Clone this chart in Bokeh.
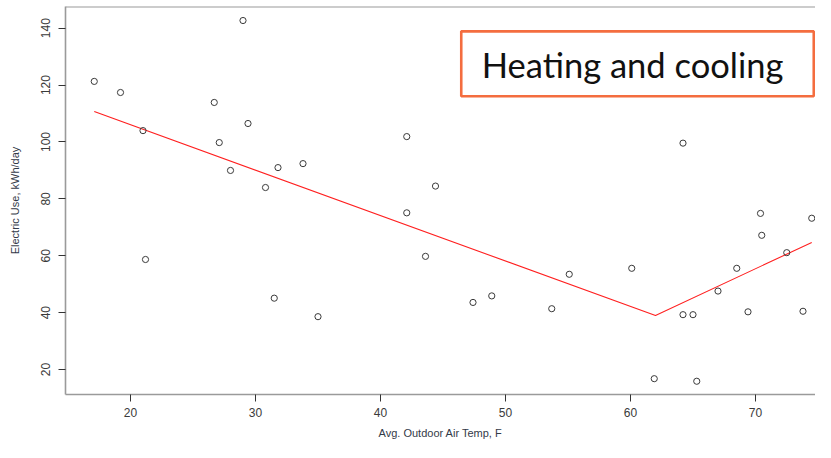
from bokeh.plotting import figure
from bokeh.models import (ColumnDataSource, Range1d, FixedTicker, BoxAnnotation,
                          Label, Span)
from bokeh.embed import file_html
from bokeh.resources import INLINE

# ---- data ----
temp_f = [17.1, 19.2, 21.0, 21.2, 26.7, 27.1, 28.0, 29.0, 29.4, 30.8,
          31.8, 31.5, 33.8, 35.0, 42.1, 42.1, 43.6, 44.4, 47.4, 48.9,
          53.7, 55.1, 60.1, 61.9, 64.2, 64.2, 65.0, 65.3, 67.0, 68.5,
          69.4, 70.4, 70.5, 72.5, 73.8, 74.5]
kwh_day = [121.3, 117.4, 104.0, 58.7, 113.9, 99.8, 90.0, 142.7, 106.5, 84.0,
           91.0, 45.1, 92.4, 38.6, 101.9, 75.1, 59.8, 84.5, 43.6, 45.9,
           41.4, 53.5, 55.6, 16.8, 99.6, 39.3, 39.3, 15.9, 47.6, 55.6,
           40.3, 74.9, 67.2, 61.1, 40.5, 73.2]

fit_x = [17.1, 62.0, 74.5]
fit_y = [110.7, 39.0, 64.7]

x_ticks = [20, 30, 40, 50, 60, 70]
y_ticks = [20, 40, 60, 80, 100, 120, 140]

title_text = "Heating and cooling"
x_label = "Avg. Outdoor Air Temp, F"
y_label = "Electric Use, kWh/day"

pts = ColumnDataSource(dict(x=temp_f, y=kwh_day))
fit = ColumnDataSource(dict(x=fit_x, y=fit_y))

Y_TOP = 147.63
p = figure(width=815, height=442, output_backend="svg", toolbar_location=None,
           x_range=Range1d(14.8, 74.8), y_range=Range1d(11.24, Y_TOP),
           min_border_left=65, min_border_right=0, min_border_top=6,
           min_border_bottom=48)

p.background_fill_color = "white"
p.border_fill_color = "white"
p.outline_line_color = None
p.grid.visible = False

axis_gray = "#9a9a9a"
for ax in (p.xaxis[0], p.yaxis[0]):
    ax.axis_line_color = axis_gray
    ax.axis_line_width = 1.6
    ax.major_tick_line_color = "#333333"
    ax.major_tick_line_width = 1
    ax.major_tick_out = 7
    ax.major_tick_in = 0
    ax.minor_tick_line_color = None
    ax.major_label_text_font = "Liberation Sans"
    ax.major_label_text_font_size = "12px"
    ax.major_label_text_color = "#3a3a3a"
    ax.axis_label_text_font = "Liberation Sans"
    ax.axis_label_text_font_size = "11px"
    ax.axis_label_text_font_style = "normal"
    ax.axis_label_text_color = "#333a48"

p.xaxis.ticker = FixedTicker(ticks=x_ticks)
p.yaxis.ticker = FixedTicker(ticks=y_ticks)
p.xaxis.axis_label = x_label
p.yaxis.axis_label = y_label
p.yaxis.major_label_orientation = "vertical"
p.xaxis.major_label_standoff = 6
p.xaxis.axis_label_standoff = 7
p.yaxis.major_label_standoff = 8
p.yaxis.axis_label_standoff = 18

# top frame line
p.add_layout(Span(location=Y_TOP, dimension="width", line_color=axis_gray,
                  line_width=2))

p.line("x", "y", source=fit, line_color="#ff2020", line_width=1.1)
p.scatter("x", "y", source=pts, marker="circle", size=6.2,
          fill_color=None, line_color="#3a3a3a", line_width=1)

box = BoxAnnotation(left=46.46, right=74.66, top=138.9, bottom=116.1,
                    fill_color="white", fill_alpha=1.0,
                    line_color="#f46d3f", line_width=2.6, line_alpha=1.0)
p.add_layout(box)
p.add_layout(Label(x=48.1, y=127.3, text=title_text, text_font="Lato",
                   text_font_size="34.5px", text_color="#111111",
                   text_baseline="alphabetic", text_align="left"))

open("out.html", "w").write(file_html(p, INLINE))
